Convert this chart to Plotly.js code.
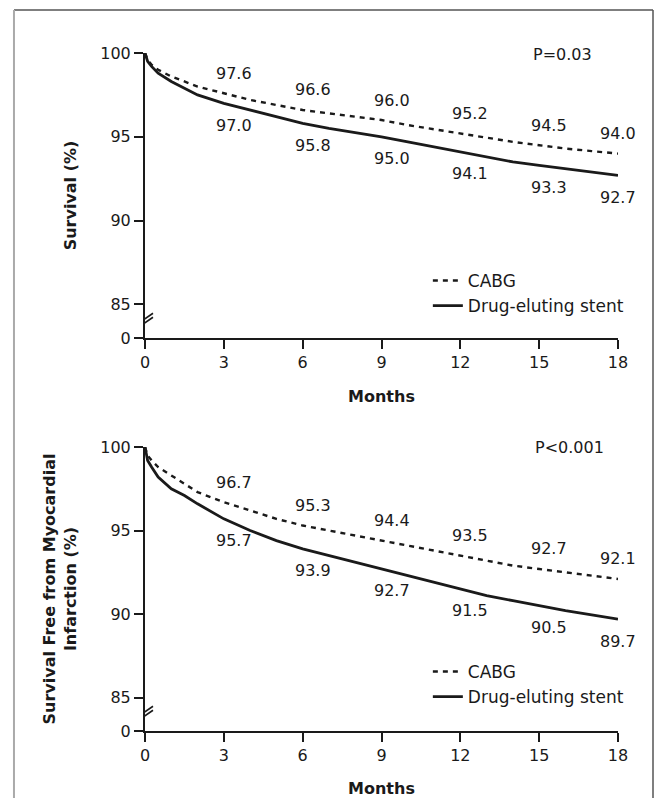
<!DOCTYPE html>
<html>
<head>
<meta charset="utf-8">
<script src="https://cdn.plot.ly/plotly-3.0.1.min.js"></script>
<style>
  html, body { margin: 0; padding: 0; background: #fff; }
  #chart { width: 658px; height: 798px; }
</style>
</head>
<body>
<div id="chart"></div>
<script>
// ---------- Data ----------
var months = [0, 0.1, 0.25, 0.5, 1, 1.5, 2, 3, 4, 5, 6, 7, 8, 9, 10, 11, 12, 13, 14, 15, 16, 17, 18];

// Panel A: Survival (%)
var survCabg = [100, 99.6, 99.3, 99.0, 98.6, 98.3, 98.0, 97.6, 97.2, 96.9, 96.6, 96.4, 96.2, 96.0, 95.7, 95.45, 95.2, 94.95, 94.7, 94.5, 94.3, 94.15, 94.0];
var survDes  = [100, 99.5, 99.2, 98.8, 98.3, 97.9, 97.5, 97.0, 96.6, 96.2, 95.8, 95.5, 95.25, 95.0, 94.7, 94.4, 94.1, 93.8, 93.5, 93.3, 93.1, 92.9, 92.7];

// Panel B: Survival free from myocardial infarction (%)
var mifCabg = [100, 99.5, 99.2, 98.8, 98.3, 97.8, 97.3, 96.7, 96.2, 95.7, 95.3, 95.0, 94.7, 94.4, 94.1, 93.8, 93.5, 93.2, 92.9, 92.7, 92.5, 92.3, 92.1];
var mifDes  = [100, 99.2, 98.8, 98.2, 97.5, 97.1, 96.6, 95.7, 95.0, 94.4, 93.9, 93.5, 93.1, 92.7, 92.3, 91.9, 91.5, 91.1, 90.8, 90.5, 90.2, 89.95, 89.7];

// Labelled values at months 3..18
var labelMonths = [3, 6, 9, 12, 15, 18];
var survCabgLabels = [97.6, 96.6, 96.0, 95.2, 94.5, 94.0];
var survDesLabels  = [97.0, 95.8, 95.0, 94.1, 93.3, 92.7];
var mifCabgLabels  = [96.7, 95.3, 94.4, 93.5, 92.7, 92.1];
var mifDesLabels   = [95.7, 93.9, 92.7, 91.5, 90.5, 89.7];

var xTickVals = [0, 3, 6, 9, 12, 15, 18];
var yTickVals = [83, 85, 90, 95, 100];          // 83 = position of the broken-axis "0"
var yTickText = ['0', '85', '90', '95', '100'];
var pValues = ['P=0.03', 'P<0.001'];
var seriesNames = ['CABG', 'Drug-eluting stent'];

// ---------- Styles ----------
var FONT = 'DejaVu Sans, Verdana, sans-serif';
var INK = '#1a1a1a';
var dashStyle = {color: INK, width: 2.4, dash: '5px,5px'};
var solidStyle = {color: INK, width: 2.8};

var traces = [
  {x: months, y: survCabg, xaxis: 'x', yaxis: 'y', name: seriesNames[0], mode: 'lines', line: dashStyle, legend: 'legend'},
  {x: months, y: survDes,  xaxis: 'x', yaxis: 'y', name: seriesNames[1], mode: 'lines', line: solidStyle, legend: 'legend'},
  {x: months, y: mifCabg,  xaxis: 'x2', yaxis: 'y2', name: seriesNames[0], mode: 'lines', line: dashStyle, legend: 'legend2'},
  {x: months, y: mifDes,   xaxis: 'x2', yaxis: 'y2', name: seriesNames[1], mode: 'lines', line: solidStyle, legend: 'legend2'}
];

function xAxis(anchor) {
  return {
    anchor: anchor, domain: [0, 1], range: [0, 18],
    tickvals: xTickVals, ticks: 'outside', ticklen: 9, tickwidth: 2, tickcolor: INK,
    showline: true, linewidth: 2, linecolor: INK, showgrid: false, zeroline: false,
    tickfont: {family: FONT, size: 16, color: INK},
    title: {text: 'Months', font: {family: FONT, size: 16, color: INK, weight: 'bold'}, standoff: 20},
    fixedrange: true
  };
}
function yAxis(anchor, domain, title) {
  return {
    anchor: anchor, domain: domain, range: [83, 100],
    tickvals: yTickVals, ticktext: yTickText, ticks: 'outside', ticklen: 9, tickwidth: 2, tickcolor: INK,
    showline: true, linewidth: 2, linecolor: INK, showgrid: false, zeroline: false,
    tickfont: {family: FONT, size: 16, color: INK},
    title: {text: title, font: {family: FONT, size: 16, color: INK, weight: 'bold'}, standoff: 20},
    fixedrange: true
  };
}

var annotations = [];
function addLabels(xref, yref, vals, up) {
  for (var i = 0; i < labelMonths.length; i++) {
    annotations.push({
      x: labelMonths[i], y: vals[i], xref: xref, yref: yref,
      text: vals[i].toFixed(1), showarrow: false,
      xanchor: 'center', yanchor: 'middle',
      xshift: labelMonths[i] === 18 ? 0 : 10,
      yshift: up ? 20 : -22,
      font: {family: FONT, size: 16, color: INK}
    });
  }
}
addLabels('x', 'y', survCabgLabels, true);
addLabels('x', 'y', survDesLabels, false);
addLabels('x2', 'y2', mifCabgLabels, true);
addLabels('x2', 'y2', mifDesLabels, false);

annotations.push({xref: 'paper', yref: 'paper', x: 0.8837, y: 0.9311, text: pValues[0], showarrow: false,
  xanchor: 'center', yanchor: 'middle', font: {family: FONT, size: 16, color: INK}});
annotations.push({xref: 'paper', yref: 'paper', x: 0.8985, y: 0.4386, text: pValues[1], showarrow: false,
  xanchor: 'center', yanchor: 'middle', font: {family: FONT, size: 16, color: INK}});

// axis-break marks and outer frame
var shapes = [];
[['x', 'y'], ['x2', 'y2']].forEach(function (r) {
  shapes.push({type: 'line', xref: r[0], yref: r[1], xsizemode: 'pixel', ysizemode: 'pixel',
    xanchor: 0, yanchor: 84, x0: -8, y0: -3, x1: 8, y1: 8, line: {color: INK, width: 1.6}});
  shapes.push({type: 'line', xref: r[0], yref: r[1], xsizemode: 'pixel', ysizemode: 'pixel',
    xanchor: 0, yanchor: 84, x0: -8, y0: -7, x1: 8, y1: 4, line: {color: INK, width: 1.6}});
});
shapes.push({type: 'line', xref: 'paper', yref: 'paper', x0: -0.277, x1: 1.074, y0: 0.9875, y1: 0.9875, line: {color: '#555', width: 1.5}});
shapes.push({type: 'line', xref: 'paper', yref: 'paper', x0: -0.277, x1: -0.277, y0: -0.02, y1: 0.9875, line: {color: '#aaa', width: 2}});
shapes.push({type: 'line', xref: 'paper', yref: 'paper', x0: 1.074, x1: 1.074, y0: -0.02, y1: 0.9875, line: {color: '#555', width: 1.5}});

var legendStyle = {
  xanchor: 'left', yanchor: 'top', bgcolor: 'rgba(0,0,0,0)', borderwidth: 0,
  itemwidth: 30, tracegroupgap: 0, traceorder: 'normal',
  font: {family: FONT, size: 17, color: INK}
};
var legend1 = Object.assign({}, legendStyle, {x: 0.598, y: 0.6704});
var legend2 = Object.assign({}, legendStyle, {x: 0.598, y: 0.1805});

var layout = {
  width: 658, height: 798,
  margin: {l: 145, r: 40, t: 0, b: 0, autoexpand: false},
  paper_bgcolor: '#fff', plot_bgcolor: '#fff',
  showlegend: true,
  legend: legend1, legend2: legend2,
  xaxis: xAxis('y'),
  yaxis: yAxis('x', [0.5764, 0.9336], 'Survival (%)'),
  xaxis2: xAxis('y2'),
  yaxis2: yAxis('x2', [0.0840, 0.4398], 'Survival Free from Myocardial<br>Infarction (%)'),
  annotations: annotations,
  shapes: shapes,
  font: {family: FONT, color: INK}
};

Plotly.newPlot('chart', traces, layout, {staticPlot: true, displayModeBar: false});
</script>
</body>
</html>
